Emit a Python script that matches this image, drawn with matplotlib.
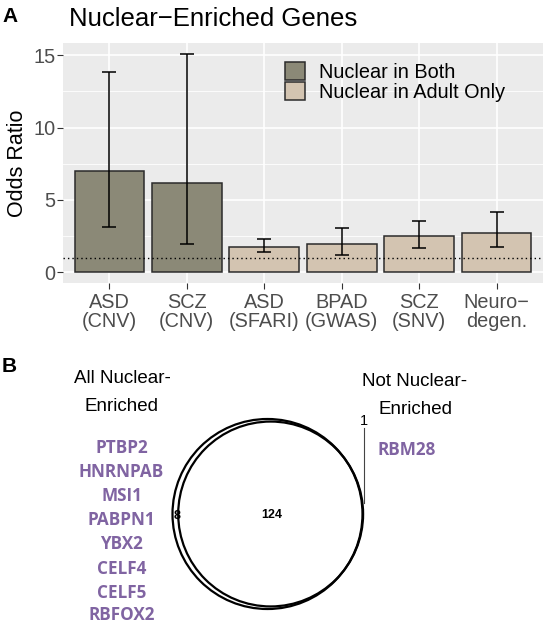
import matplotlib
matplotlib.use("Agg")
import matplotlib.pyplot as plt
from matplotlib.patches import Patch, Circle
import numpy as np

plt.rcParams['font.family'] = ['Liberation Sans', 'DejaVu Sans']

# ---------------- data ----------------
categories = ["ASD\n(CNV)", "SCZ\n(CNV)", "ASD\n(SFARI)", "BPAD\n(GWAS)", "SCZ\n(SNV)", "Neuro\u2212\ndegen."]
odds = [7.0, 6.18, 1.76, 1.96, 2.49, 2.72]
ci_low = [3.1, 1.93, 1.37, 1.21, 1.69, 1.71]
ci_high = [13.88, 15.1, 2.26, 3.06, 3.57, 4.15]
group = ["Nuclear in Both", "Nuclear in Both", "Nuclear in Adult Only",
         "Nuclear in Adult Only", "Nuclear in Adult Only", "Nuclear in Adult Only"]
group_colors = {"Nuclear in Both": "#8B8977", "Nuclear in Adult Only": "#D3C4B1"}
y_ticks = [0, 5, 10, 15]

venn_left_only = 8
venn_both = 124
venn_right_only = 1
left_set_label = ["All Nuclear-", "Enriched"]
right_set_label = ["Not Nuclear-", "Enriched"]
left_genes = ["PTBP2", "HNRNPAB", "MSI1", "PABPN1", "YBX2", "CELF4", "CELF5", "RBFOX2"]
right_genes = ["RBM28"]

# ---------------- figure ----------------
W, H = 550, 625
fig = plt.figure(figsize=(W / 100, H / 100), dpi=100)

def fx(px):
    return px / W

def fy(py):
    return 1 - py / H

# Panel A axes
ax = fig.add_axes([fx(63), fy(283), fx(543) - fx(63), fy(43) - fy(283)])
ax.set_facecolor("#EBEBEB")
x = np.arange(1, len(categories) + 1)
colors = [group_colors[g] for g in group]
ax.bar(x, odds, width=0.9, color=colors, edgecolor="#2B2B2B", linewidth=1.1, zorder=3)
yerr = np.array([np.array(odds) - np.array(ci_low), np.array(ci_high) - np.array(odds)])
ax.errorbar(x, odds, yerr=yerr, fmt="none", ecolor="black", elinewidth=1.1,
            capsize=4.7, capthick=1.1, zorder=4)
ax.axhline(1, color="black", linestyle=(0, (1, 2.2)), linewidth=1.0, zorder=5)

ymax = max(ci_high)
ax.set_xlim(0.4, len(categories) + 0.6)
ax.set_ylim(-0.05 * ymax, ymax * 1.05)
ax.set_yticks(y_ticks)
ax.set_yticks([2.5, 7.5, 12.5], minor=True)
ax.set_xticks(x)
ax.set_xticklabels(categories, linespacing=1.0)
ax.grid(True, which="major", color="white", linewidth=1.2, zorder=0)
ax.grid(True, which="minor", axis="y", color="white", linewidth=0.6, zorder=0)
ax.set_axisbelow(True)
for s in ax.spines.values():
    s.set_visible(False)
ax.tick_params(axis="both", which="major", length=4, width=0.8, color="#333333",
               labelsize=14.3, labelcolor="#4D4D4D")
ax.tick_params(axis="y", pad=1.5)
ax.tick_params(axis="x", pad=3)
ax.tick_params(which="minor", length=0)
ax.set_ylabel("Odds Ratio", fontsize=15.5, labelpad=4)

handles = [Patch(facecolor=group_colors[g], edgecolor="#2B2B2B", linewidth=1.1, label=g)
           for g in ["Nuclear in Both", "Nuclear in Adult Only"]]
ax.legend(handles=handles, loc="upper left", bbox_to_anchor=(fx(285), fy(62)),
          bbox_transform=fig.transFigure, frameon=False, fontsize=14.3,
          handlelength=1.0, handleheight=1.05, labelspacing=0.0, handletextpad=0.7,
          borderpad=0, borderaxespad=0)

fig.text(fx(69), fy(19), "Nuclear\u2212Enriched Genes", fontsize=18.5, va="center", ha="left")
fig.text(fx(2), fy(16), "A", fontsize=15, fontweight="bold", va="center", ha="left")
fig.text(fx(2), fy(366), "B", fontsize=15, fontweight="bold", va="center", ha="left")

# Panel B: pixel-coordinate axes
bx = fig.add_axes([0, 0, 1, fy(335)])
bx.set_xlim(0, W)
bx.set_ylim(H, 335)
bx.axis("off")
bx.patch.set_alpha(0)

k = 95 / np.sqrt(venn_left_only + venn_both)
r_left = k * np.sqrt(venn_left_only + venn_both)
r_right = k * np.sqrt(venn_both + venn_right_only)
cxl, cy = 267.5, 514
cxr = cxl + (r_left - r_right) + 0.6
bx.add_patch(Circle((cxl, cy), r_left, fill=False, edgecolor="black", linewidth=1.6))
bx.add_patch(Circle((cxr, cy), r_right, fill=False, edgecolor="black", linewidth=1.6))

bx.text(272, 515, str(venn_both), fontsize=9, fontweight="bold", ha="center", va="center")
bx.text(177, 516, str(venn_left_only), fontsize=9, fontweight="bold", ha="center", va="center")
bx.text(363.5, 421, str(venn_right_only), fontsize=10.5, ha="center", va="center")
bx.plot([364, 364], [428, 503], color="#444444", linewidth=0.8)

for line, yy in zip(left_set_label, [378, 406]):
    bx.text(122, yy, line, fontsize=13.5, ha="center", va="center")
for line, yy in zip(right_set_label, [381, 409]):
    bx.text(415, yy, line, fontsize=13.5, ha="center", va="center")

gene_y = [448, 472, 496, 520, 544, 569, 593, 615]
for g, yy in zip(left_genes, gene_y):
    bx.text(121.5, yy, g, fontsize=12.3, fontweight="bold", color="#8064A2",
            family=["Open Sans", "DejaVu Sans"], ha="center", va="center")
for g in right_genes:
    bx.text(407, 450, g, fontsize=12.3, fontweight="bold", color="#8064A2",
            family=["Open Sans", "DejaVu Sans"], ha="center", va="center")

fig.savefig("out.png", dpi=100)
